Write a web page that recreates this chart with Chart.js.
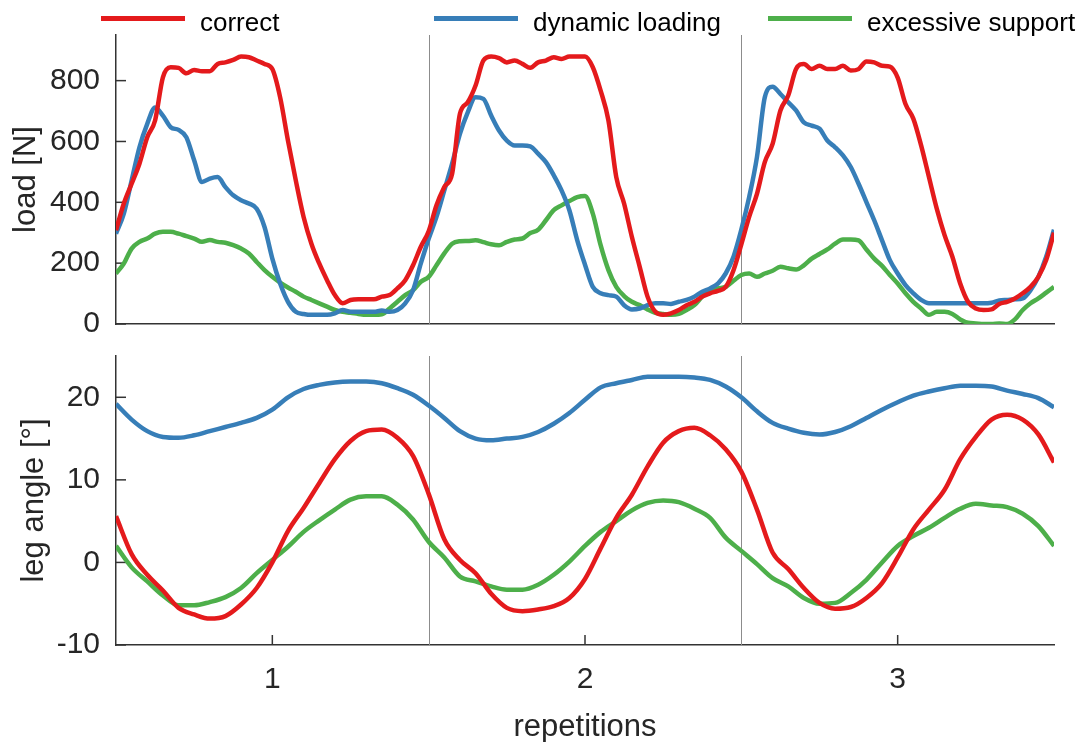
<!DOCTYPE html>
<html>
<head>
<meta charset="utf-8">
<script src="https://cdn.jsdelivr.net/npm/chart.js@4.4.1/dist/chart.umd.min.js"></script>
<style>
  html, body { margin: 0; padding: 0; background: #fff; overflow: hidden; }
  #wrap { position: relative; width: 1092px; height: 742px; overflow: hidden; font-family: 'Liberation Sans', Arial, sans-serif; }
  canvas { position: absolute; left: 0; }
  #loadChart { top: 0; }
  #angleChart { top: 340px; }
  .legend-item { position: absolute; top: 0; height: 40px; }
  .swatch { position: absolute; left: 0; top: 16px; width: 84px; height: 5px; }
  .legend-label { position: absolute; left: 99px; top: 9px; font-size: 26px; line-height: 26px; color: #000; white-space: nowrap; }
</style>
</head>
<body>
<div id="wrap">
  <canvas id="loadChart" width="1092" height="340"></canvas>
  <canvas id="angleChart" width="1092" height="406"></canvas>
  <div id="legend"></div>
</div>
<script>
// series + axes
const seriesNames = ['correct', 'dynamic loading', 'excessive support'];
const seriesColors = ['#e41a1c', '#377eb8', '#4daf4a'];
const legendLeft = [101, 434, 768];

const xTicks = [1, 2, 3];
const separators = [1.5, 2.5];
const loadTicks = [0, 200, 400, 600, 800];
const angleTicks = [-10, 0, 10, 20];

// load [N], sampled every 0.025 repetitions from 0.5 to 3.5
const loadCorrect = [
  308, 396, 461, 527, 614, 669, 811, 844, 842, 824, 835, 831, 831, 855, 860, 868, 879, 877, 866, 855,
  838, 745, 603, 472, 352, 264, 199, 144, 95, 68, 79, 81, 81, 81, 90, 95, 117, 144, 193, 254, 305,
  390, 450, 494, 691, 729, 784, 866, 879, 874, 860, 866, 855, 842, 860, 866, 877, 871, 879, 879, 879,
  844, 767, 669, 483, 396, 286, 188, 90, 40, 30, 35, 46, 62, 73, 90, 101, 109, 122, 177, 262,
  352, 428, 532, 592, 702, 751, 838, 855, 838, 849, 838, 838, 849, 833, 838, 863, 860, 849, 846, 810,
  723, 675, 587, 483, 379, 292, 221, 133, 73, 51, 46, 48, 66, 73, 84, 101, 122, 155, 210, 300
];
const loadDynamic = [
  297, 363, 472, 581, 658, 712, 685, 647, 638, 614, 538, 467, 478, 483, 450, 423, 407, 396, 379, 319,
  215, 133, 73, 40, 33, 30, 30, 30, 35, 46, 40, 40, 40, 40, 44, 40, 46, 68, 111, 199, 280,
  352, 439, 527, 625, 696, 745, 740, 685, 636, 603, 587, 587, 584, 560, 532, 489, 439, 374, 276, 195,
  122, 101, 95, 90, 62, 48, 51, 62, 68, 68, 66, 73, 79, 90, 106, 117, 133, 166, 221, 310,
  417, 549, 745, 780, 756, 729, 702, 663, 652, 642, 603, 581, 554, 516, 461, 401, 341, 275, 210, 166,
  128, 101, 79, 68, 68, 68, 68, 68, 68, 68, 68, 70, 77, 79, 81, 84, 111, 155, 221, 310
];
const loadExcessive = [
  166, 199, 248, 270, 281, 297, 303, 303, 297, 289, 281, 270, 276, 270, 267, 259, 248, 232, 204, 177,
  155, 136, 120, 106, 90, 79, 68, 57, 46, 40, 37, 33, 30, 30, 32, 51, 73, 95, 111, 139, 155,
  193, 232, 264, 272, 273, 275, 269, 262, 259, 270, 278, 281, 299, 310, 341, 374, 390, 404, 417, 421,
  363, 259, 177, 122, 92, 73, 62, 48, 37, 33, 30, 33, 46, 62, 90, 109, 117, 122, 142, 161,
  166, 155, 166, 175, 188, 183, 179, 193, 215, 230, 245, 264, 278, 278, 275, 245, 215, 191, 161, 133,
  101, 73, 51, 30, 40, 40, 33, 15, 4, 2, 0, 0, 2, 0, 15, 46, 68, 84, 103, 122
];

// leg angle [°], sampled every 0.05 repetitions from 0.5 to 3.5
const angleCorrect = [
  5.6, 1.0, -1.5, -3.4, -5.5, -6.3, -6.8, -6.5, -5.1, -3.1, 0.0, 3.8, 6.6, 9.6, 12.5, 14.7, 15.9, 16.1, 15.1, 12.9, 8.3,
  2.8, 0.3, -1.3, -3.8, -5.5, -5.9, -5.7, -5.3, -4.3, -2.0, 1.7, 5.4, 8.2, 11.6, 14.5, 15.9, 16.3, 15.4, 13.7, 11.0,
  6.4, 1.2, -0.8, -3.1, -4.9, -5.6, -5.4, -4.3, -2.5, 0.6, 4.0, 6.4, 8.8, 12.5, 15.2, 17.3, 17.9, 17.3, 15.5, 12.1
];
const angleDynamic = [
  19.2, 17.3, 15.9, 15.2, 15.1, 15.4, 15.9, 16.4, 16.9, 17.5, 18.5, 20.0, 21.0, 21.5, 21.8, 21.9, 21.9, 21.7, 21.1, 20.3, 19.0,
  17.5, 15.9, 15.0, 14.8, 15.0, 15.2, 15.8, 16.8, 18.1, 19.7, 21.2, 21.7, 22.1, 22.5, 22.5, 22.5, 22.4, 22.1, 21.3, 20.0,
  18.3, 16.9, 16.2, 15.7, 15.5, 15.8, 16.5, 17.5, 18.5, 19.4, 20.2, 20.7, 21.1, 21.4, 21.4, 21.3, 20.8, 20.4, 19.9, 18.8
];
const angleExcessive = [
  2.0, -0.6, -2.3, -4.0, -5.2, -5.2, -4.8, -4.2, -3.1, -1.3, 0.3, 1.9, 3.7, 5.1, 6.4, 7.6, 8.0, 8.0, 7.0, 5.2, 2.5,
  0.6, -1.7, -2.3, -2.9, -3.3, -3.3, -2.7, -1.5, 0.1, 2.0, 3.7, 5.0, 6.3, 7.2, 7.5, 7.3, 6.5, 5.4, 3.0, 1.4,
  -0.2, -1.9, -2.9, -4.3, -5.0, -4.9, -3.7, -2.1, 0.0, 2.0, 3.2, 4.2, 5.4, 6.5, 7.1, 6.9, 6.7, 5.9, 4.4, 2.0
];

const loadX = loadCorrect.map((v, i) => 0.5 + i * 0.025);
const angleX = angleCorrect.map((v, i) => 0.5 + i * 0.05);

const FONT = "'Liberation Sans', Arial, sans-serif";
const AXIS = '#333333';
const TEXT = '#262626';

// html legend
const legend = document.getElementById('legend');
seriesNames.forEach((name, i) => {
  const item = document.createElement('div');
  item.className = 'legend-item';
  item.style.left = legendLeft[i] + 'px';
  item.innerHTML = '<span class="swatch" style="background:' + seriesColors[i] + '"></span>' +
    '<span class="legend-label">' + name + '</span>';
  legend.appendChild(item);
});

// separators + inward tick marks
const panelFrame = {
  id: 'panelFrame',
  beforeDatasetsDraw(chart) {
    const { ctx, chartArea: a, scales } = chart;
    ctx.save();
    ctx.strokeStyle = '#8c8c8c';
    ctx.lineWidth = 1;
    separators.forEach(v => {
      const px = Math.round(scales.x.getPixelForValue(v)) + 0.5;
      ctx.beginPath();
      ctx.moveTo(px, a.top);
      ctx.lineTo(px, a.bottom);
      ctx.stroke();
    });
    ctx.strokeStyle = AXIS;
    ctx.lineWidth = 1.5;
    scales.y.ticks.forEach(t => {
      const py = scales.y.getPixelForValue(t.value);
      ctx.beginPath();
      ctx.moveTo(a.left, py);
      ctx.lineTo(a.left + 10, py);
      ctx.stroke();
    });
    if (chart.options.plugins.panelFrame.xTicks) {
      scales.x.ticks.forEach(t => {
        const px = scales.x.getPixelForValue(t.value);
        ctx.beginPath();
        ctx.moveTo(px, a.bottom);
        ctx.lineTo(px, a.bottom - 10);
        ctx.stroke();
      });
    }
    ctx.restore();
  }
};

function makeDatasets(xs, series) {
  return series.map((vals, i) => ({
    label: seriesNames[i],
    data: vals.map((v, j) => ({ x: xs[j], y: v })),
    borderColor: seriesColors[i],
    borderWidth: 4.5,
    pointRadius: 0,
    cubicInterpolationMode: 'monotone',
    fill: false
  }));
}

function makeChart(id, cfg) {
  return new Chart(document.getElementById(id), {
    type: 'line',
    data: { datasets: makeDatasets(cfg.xs, cfg.series) },
    plugins: [panelFrame],
    options: {
      responsive: false,
      animation: false,
      layout: { padding: { top: cfg.padTop, right: 38, bottom: 0, left: 0 } },
      plugins: { legend: { display: false }, tooltip: { enabled: false }, panelFrame: { xTicks: cfg.showX } },
      scales: {
        x: {
          type: 'linear',
          min: 0.5,
          max: 3.5,
          afterBuildTicks: s => { s.ticks = xTicks.map(v => ({ value: v })); },
          afterFit: s => { s.height = cfg.xHeight; s.paddingLeft = 0; s.paddingRight = 0; },
          grid: { display: false },
          border: { display: true, color: AXIS, width: 1.5 },
          ticks: { display: cfg.showX, padding: 9, color: TEXT, font: { family: FONT, size: 30 } },
          title: {
            display: cfg.showX,
            text: 'repetitions',
            color: TEXT,
            padding: { top: 0, bottom: 0 },
            font: { family: FONT, size: 31 }
          }
        },
        y: {
          min: cfg.yMin,
          max: cfg.yMax,
          afterBuildTicks: s => { s.ticks = cfg.yTicks.map(v => ({ value: v })); },
          afterFit: s => { s.width = 116; s.paddingTop = 0; s.paddingBottom = 0; },
          grid: { display: false },
          border: { display: true, color: AXIS, width: 1.5 },
          ticks: { padding: 8, color: TEXT, font: { family: FONT, size: 30 } },
          title: {
            display: true,
            text: cfg.yTitle,
            color: TEXT,
            padding: { top: cfg.titlePad, bottom: 0 },
            font: { family: FONT, size: 31 }
          }
        }
      }
    }
  });
}

makeChart('loadChart', {
  xs: loadX,
  series: [loadCorrect, loadDynamic, loadExcessive],
  padTop: 35, xHeight: 16, showX: false,
  yMin: 0, yMax: 950, yTicks: loadTicks,
  yTitle: 'load [N]', titlePad: 8
});

makeChart('angleChart', {
  xs: angleX,
  series: [angleCorrect, angleDynamic, angleExcessive],
  padTop: 16, xHeight: 101, showX: true,
  yMin: -10, yMax: 25, yTicks: angleTicks,
  yTitle: 'leg angle [°]', titlePad: 16
});
</script>
</body>
</html>
